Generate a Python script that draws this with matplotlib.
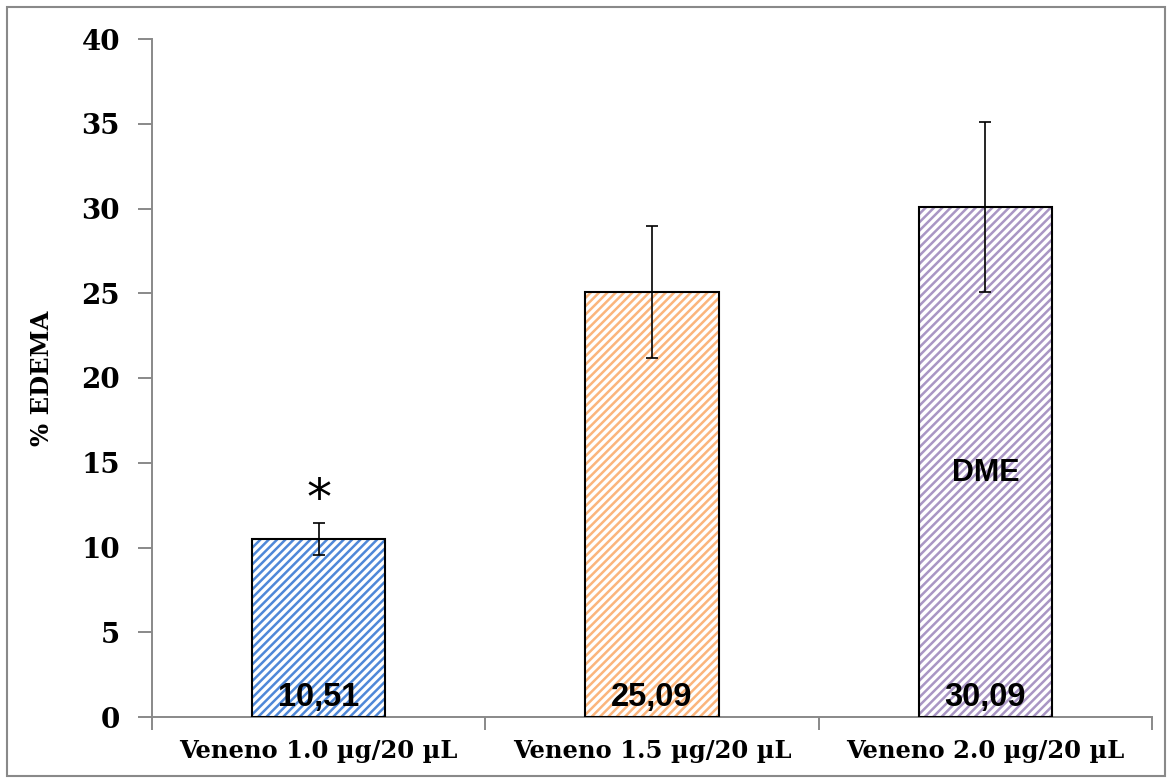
import numpy as np
import matplotlib.pyplot as plt
from matplotlib.patches import Rectangle
import matplotlib.font_manager as fm

# data
categories = ['Veneno 1.0 µg/20 µL', 'Veneno 1.5 µg/20 µL', 'Veneno 2.0 µg/20 µL']
edema = [10.51, 25.09, 30.09]
errors = [0.95, 3.9, 5.0]
value_labels = ['10,51', '25,09', '30,09']
colors = ['#4f88d8', '#fbb57c', '#a996c4']

names = {f.name for f in fm.fontManager.ttflist}
serif_c = 'DejaVu Serif Condensed' if 'DejaVu Serif Condensed' in names else 'DejaVu Serif'

plt.rcParams['hatch.linewidth'] = 1.8

fig = plt.figure(figsize=(11.72, 7.83), dpi=100)
ax = fig.add_axes([152/1172, 1 - 717/783, 1000/1172, 678/783])

x = np.arange(len(categories))
for i in range(len(categories)):
    ax.bar(x[i], edema[i], width=0.4, color='white', edgecolor=colors[i],
           hatch='////', linewidth=0, zorder=2)
    ax.bar(x[i], edema[i], width=0.4, color='none', edgecolor='black',
           linewidth=1.5, zorder=3)
ax.errorbar(x, edema, yerr=errors, fmt='none', ecolor='black',
            elinewidth=1.2, capsize=4.5, capthick=1.2, zorder=4)

for i, lab in enumerate(value_labels):
    ax.text(x[i], 1.15, lab, ha='center', va='center', fontsize=23.5,
            fontweight='bold', family='Liberation Sans', zorder=5)
ax.text(x[0], 12.8, '*', ha='center', va='center', fontsize=36, zorder=5)
ax.text(x[2], 14.4, 'DME', ha='center', va='center', fontsize=22,
        fontweight='bold', family='Liberation Sans', zorder=5)

ax.set_xlim(-0.5, 2.5)
ax.set_ylim(0, 40)
ax.set_yticks(range(0, 41, 5))
ax.set_xticks(x)
ax.set_xticklabels(categories)
ax.set_xticks([-0.5, 0.5, 1.5, 2.5], minor=True)
ax.tick_params(axis='x', which='major', length=0, pad=16)
ax.tick_params(axis='x', which='minor', length=9, width=1.4, color='#898989')
ax.tick_params(axis='y', length=10, width=1.4, color='#898989', pad=13)
for lab in ax.get_yticklabels():
    lab.set_family(serif_c)
    lab.set_fontweight('bold')
    lab.set_fontsize(20)
for lab in ax.get_xticklabels():
    lab.set_family('DejaVu Serif')
    lab.set_fontweight('bold')
    lab.set_fontsize(17.5)

for s in ['top', 'right']:
    ax.spines[s].set_visible(False)
for s in ['left', 'bottom']:
    ax.spines[s].set_color('#898989')
    ax.spines[s].set_linewidth(1.4)

ax.set_ylabel('% EDEMA', family=serif_c, fontweight='bold',
              fontsize=17.5, labelpad=20)

# outer frame
fig.patches.append(Rectangle((7/1172, 7/783), 1158/1172, 769/783,
                             transform=fig.transFigure, fill=False,
                             edgecolor='#898989', linewidth=1.5))

plt.savefig('out.png', dpi=100)
